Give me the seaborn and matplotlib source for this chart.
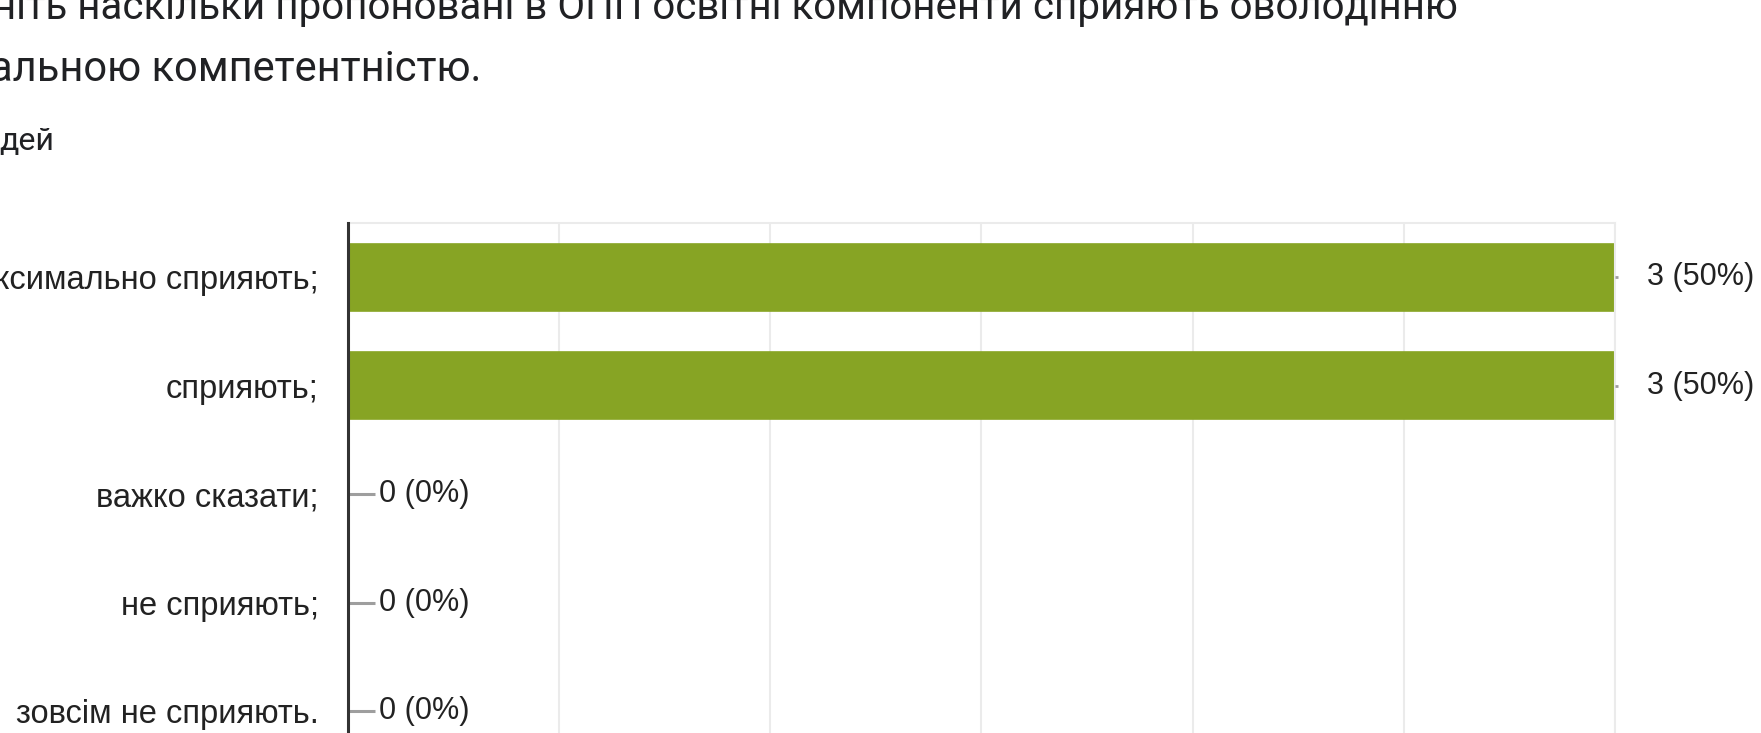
import matplotlib
matplotlib.use("Agg")
import matplotlib.pyplot as plt
import seaborn as sns
import pandas as pd

# survey answers (Ukrainian), counts and share of 6 responses
answers = ["максимально сприяють;", "сприяють;", "важко сказати;",
           "не сприяють;", "зовсім не сприяють."]
counts = [3, 3, 0, 0, 0]
percents = [50, 50, 0, 0, 0]
title_line1 = "ніть наскільки пропоновані в ОПП освітні компоненти сприяють оволодінню"
title_line2 = "альною компетентністю."
subtitle = "дей"

green = "#87a424"
grid_c = "#ebebeb"
text_c = "#222222"

sns.set_style("white")
plt.rcParams["font.family"] = ["Liberation Sans", "DejaVu Sans"]

df = pd.DataFrame({"answer": answers, "count": counts})

fig = plt.figure(figsize=(17.61, 7.33), dpi=100)
ax = fig.add_axes([0.1976, -0.0443, 0.7195, 0.7401])

sns.barplot(data=df, x="count", y="answer", orient="h", color=green,
            saturation=1, width=0.62, edgecolor=green, linewidth=1.2, ax=ax)

ax.set_xlim(0, 3)
ax.set_ylim(len(answers) - 0.5, -0.5)
ax.set_xticks([0.5 * i for i in range(7)])
ax.set_xticklabels([])
ax.xaxis.grid(True, color=grid_c, linewidth=1.5)
ax.yaxis.grid(False)
ax.set_axisbelow(True)
ax.set_xlabel("")
ax.set_ylabel("")
ax.tick_params(axis="both", length=0)
ax.tick_params(axis="y", labelsize=23.5, pad=21, labelcolor=text_c)

ax.spines["left"].set_color("#333333")
ax.spines["left"].set_linewidth(2.2)
ax.spines["left"].set_zorder(5)
ax.spines["top"].set_color(grid_c)
ax.spines["top"].set_linewidth(1.5)
ax.spines["right"].set_color(grid_c)
ax.spines["right"].set_linewidth(1.5)
ax.spines["bottom"].set_visible(False)

# value labels with grey leader lines
for i, (c, p) in enumerate(zip(counts, percents)):
    if c == 0:
        ax.plot([0, 0.064], [i, i], color="#9e9e9e", linewidth=2.2,
                solid_capstyle="butt", zorder=4, clip_on=False)
        ax.text(0.073, i, f"{c} ({p}%)", va="center", ha="left",
                fontsize=22, color=text_c)
    else:
        ax.plot([c, c + 0.008], [i, i], color="#9e9e9e", linewidth=2,
                solid_capstyle="butt", zorder=4, clip_on=False)
        ax.text(c + 0.075, i, f"{c} ({p}%)", va="center", ha="left",
                fontsize=22, color=text_c, clip_on=False)

fig.text(1458 / 1761, 0.974, title_line1, ha="right", va="baseline",
         fontsize=29, color="#202124", family=["Roboto", "DejaVu Sans"])
fig.text(-10 / 1761, 0.889, title_line2, ha="left", va="baseline",
         fontsize=30, color="#202124", family=["Roboto", "DejaVu Sans"])
fig.text(54 / 1761, 0.795, subtitle, ha="right", va="baseline",
         fontsize=23, color="#202124", family=["Roboto", "DejaVu Sans"])

fig.savefig("out.png", dpi=100)
